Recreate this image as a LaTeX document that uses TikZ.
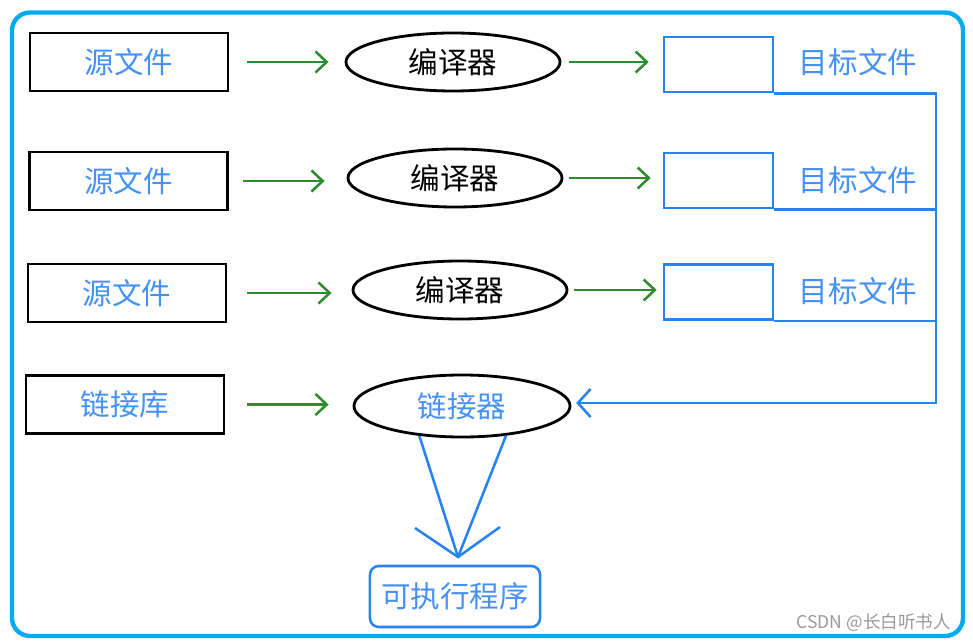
\documentclass[tikz,border=0pt]{standalone}
\usepackage{fontspec}
\setmainfont{Noto Sans CJK SC}
\usepackage{xcolor}
\usepackage{tikz}
\usetikzlibrary{shapes.geometric, arrows.meta, positioning}

\definecolor{frameblue}{RGB}{0,172,240}
\definecolor{textblue}{RGB}{70,145,245}
\definecolor{lineblue}{RGB}{40,130,240}
\definecolor{arrowgreen}{RGB}{45,140,45}

\begin{document}
\begin{tikzpicture}[x=0.025cm, y=-0.025cm,
    every node/.style={font=\fontsize{21}{24}\selectfont},
    srcbox/.style={draw, line width=2pt, rectangle, minimum width=4.95cm, minimum height=1.45cm, text=textblue},
    compell/.style={draw, line width=2pt, ellipse, minimum width=5.35cm, minimum height=1.45cm, inner sep=0pt},
    objbox/.style={draw=lineblue, line width=1.8pt, rectangle, minimum width=2.725cm, minimum height=1.375cm},
    greenarrow/.style={-{Straight Barb[length=8pt, width=15pt]}, line width=1.8pt, arrowgreen},
    blueline/.style={line width=1.8pt, lineblue}]
    % Frame
    \useasboundingbox (0,0) rectangle (973,643);
    \draw[frameblue, line width=0.11cm, rounded corners=0.45cm] (12,12.5) rectangle (963,636);

    % Source files
    \node (src1) [srcbox] at (129,62) {源文件};
    \node (src2) [srcbox] at (128.5,181) {源文件};
    \node (src3) [srcbox] at (127,293) {源文件};
    \node (lib) [srcbox] at (125,404.5) {链接库};

    % Compilers and linker
    \node (comp1) [compell] at (453,62) {编译器};
    \node (comp2) [compell] at (455,178) {编译器};
    \node (comp3) [compell] at (460,290) {编译器};
    \node (link) [compell, minimum width=5.4cm, minimum height=1.55cm, text=textblue] at (462,406) {链接器};

    % Object files
    \node (obj1) [objbox] at (718.5,64.5) {};
    \node (obj2) [objbox] at (718.5,180.5) {};
    \node (obj3) [objbox] at (718.5,292) {};
    \node (lbl1) [text=textblue] at (858,62) {目标文件};
    \node (lbl2) [text=textblue] at (858,180) {目标文件};
    \node (lbl3) [text=textblue] at (858,291) {目标文件};

    % Executable
    \node (exe) [draw=lineblue, line width=1.8pt, rounded corners=0.22cm, minimum width=4.25cm, minimum height=1.525cm, text=textblue] at (455,596.5) {可执行程序};

    % Source -> compiler
    \draw[greenarrow, shorten <=0.45cm, shorten >=0.4cm] (src1.east) -- (src1.east -| comp1.west);
    \draw[greenarrow, shorten <=0.35cm, shorten >=0.55cm] (src2.east) -- (src2.east -| comp2.west);
    \draw[greenarrow, shorten <=0.5cm, shorten >=0.5cm] (src3.east) -- (src3.east -| comp3.west);
    \draw[greenarrow, shorten <=0.55cm, shorten >=0.6cm] (lib.east) -- (lib.east -| link.west);

    % Compiler -> object file
    \draw[greenarrow, shorten <=0.18cm, shorten >=0.35cm] (comp1.east) -- (comp1.east -| obj1.west);
    \draw[greenarrow, shorten <=0.13cm, shorten >=0.3cm] (comp2.east) -- (comp2.east -| obj2.west);
    \draw[greenarrow, shorten <=0.15cm, shorten >=0.15cm] (comp3.east) -- (comp3.east -| obj3.west);

    % Object files -> linker
    \coordinate (bus) at (936,403);
    \draw[blueline, -{Straight Barb[length=9pt, width=20pt]}, shorten >=0.12cm] (obj1.south east) -| (bus) -- (bus -| link.east);
    \draw[blueline] (obj2.south east) -- (obj2.south east -| bus);
    \draw[blueline] (obj3.south east) -- (obj3.south east -| bus);

    % Linker -> executable
    \coordinate (tip) at (458,557);
    \coordinate (wingl) at (415,528);
    \coordinate (wingr) at (500,527);
    \draw[blueline] (link.215) -- (tip);
    \draw[blueline] (link.326) -- (tip);
    \draw[blueline] (wingl) -- (tip) -- (wingr);

    % Watermark
    \node (mark) [anchor=east, text=gray!80, font=\fontsize{12.5}{14}\selectfont] at (956,623) {CSDN @长白听书人};
\end{tikzpicture}
\end{document}
